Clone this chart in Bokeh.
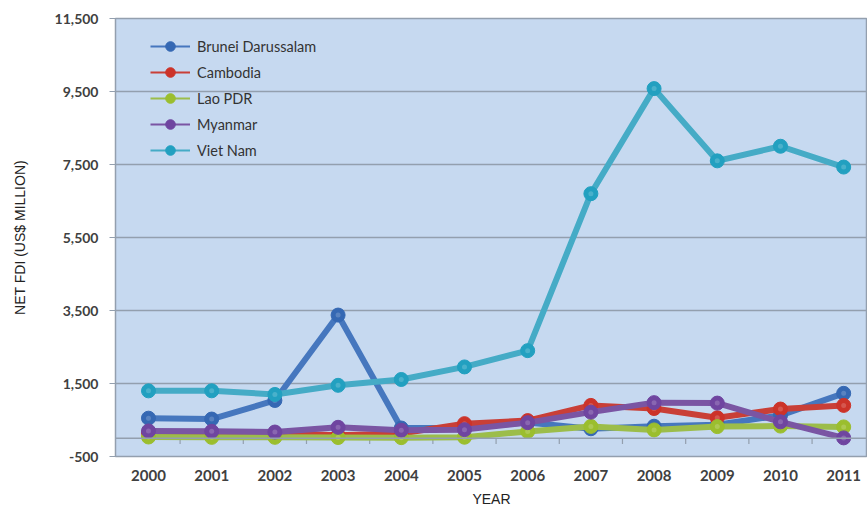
from bokeh.plotting import figure
from bokeh.models import (FixedTicker, NumeralTickFormatter, Span, Legend, LegendItem,
                          Range1d, ColumnDataSource)
from bokeh.embed import file_html
from bokeh.resources import INLINE

years = [2000, 2001, 2002, 2003, 2004, 2005, 2006, 2007, 2008, 2009, 2010, 2011]
brunei = [550, 526, 1035, 3375, 280, 289, 434, 260, 330, 370, 626, 1230]
cambodia = [149, 149, 145, 84, 131, 400, 483, 900, 815, 560, 800, 900]
lao = [34, 24, 25, 20, 17, 28, 187, 324, 228, 319, 333, 310]
myanmar = [200, 190, 170, 300, 220, 236, 428, 715, 976, 963, 450, 10]
vietnam = [1298, 1300, 1200, 1450, 1610, 1954, 2400, 6700, 9579, 7600, 8000, 7430]

names = ["Brunei Darussalam", "Cambodia", "Lao PDR", "Myanmar", "Viet Nam"]
series = [brunei, cambodia, lao, myanmar, vietnam]
line_colors = ["#4677BE", "#C93F37", "#9CBD4A", "#7A55A3", "#45ABC6"]
marker_colors = ["#3568B3", "#CC3329", "#9BBE2E", "#6F45A0", "#22A0C0"]
y_ticks = [-500, 1500, 3500, 5500, 7500, 9500, 11500]

FONT = "Lato"
GRID = "#939FAE"

p = figure(width=867, height=509, output_backend="svg", toolbar_location=None,
           x_range=Range1d(1999.478, 2011.377), y_range=Range1d(-500, 11500),
           min_border_left=115, min_border_top=18, min_border_bottom=51,
           min_border_right=0)

p.background_fill_color = "#C6D9F0"
p.border_fill_color = "white"
p.outline_line_color = GRID
p.outline_line_width = 1.5

# grid
p.xgrid.visible = False
p.ygrid.ticker = FixedTicker(ticks=y_ticks)
p.ygrid.grid_line_color = GRID
p.ygrid.grid_line_width = 1.5

# y axis
p.yaxis.ticker = FixedTicker(ticks=y_ticks)
p.yaxis.formatter = NumeralTickFormatter(format="0,0")
p.yaxis.axis_line_color = None
p.yaxis.major_tick_line_color = GRID
p.yaxis.major_tick_out = 6
p.yaxis.major_tick_in = 0
p.yaxis.minor_tick_line_color = None
p.yaxis.major_label_standoff = 11
p.yaxis.major_label_text_font = FONT
p.yaxis.major_label_text_font_size = "14px"
p.yaxis.major_label_text_font_style = "bold"
p.yaxis.major_label_text_color = "#404040"
p.yaxis.axis_label = "NET FDI (US$ MILLION)"
p.yaxis.axis_label_text_font = "Liberation Sans"
p.yaxis.axis_label_text_font_size = "14px"
p.yaxis.axis_label_text_font_style = "normal"
p.yaxis.axis_label_text_color = "#222222"
p.yaxis.axis_label_standoff = 24

# x axis
p.xaxis.ticker = FixedTicker(ticks=years)
p.xaxis.axis_line_color = None
p.xaxis.major_tick_line_color = None
p.xaxis.major_tick_out = 0
p.xaxis.major_tick_in = 0
p.xaxis.minor_tick_line_color = None
p.xaxis.major_label_standoff = 13
p.xaxis.major_label_text_font = FONT
p.xaxis.major_label_text_font_size = "15px"
p.xaxis.major_label_text_font_style = "bold"
p.xaxis.major_label_text_color = "#404040"
p.xaxis.axis_label = "YEAR"
p.xaxis.axis_label_text_font = "Liberation Sans"
p.xaxis.axis_label_text_font_size = "14px"
p.xaxis.axis_label_text_font_style = "normal"
p.xaxis.axis_label_text_color = "#222222"
p.xaxis.axis_label_standoff = 7

# category axis crossing at zero, with tick marks between categories
p.add_layout(Span(location=0, dimension="width", line_color=GRID, line_width=1.5))
mids = [y + 0.5 for y in years[:-1]]
p.segment(x0=mids, y0=[0] * len(mids), x1=mids, y1=[-160] * len(mids),
          line_color=GRID, line_width=1.2)

# series
for name, vals, lc, mc in zip(names, series, line_colors, marker_colors):
    src = ColumnDataSource(dict(x=years, y=vals))
    p.line("x", "y", source=src, line_color=lc, line_width=6, line_join="round")
    p.scatter("x", "y", source=src, size=14, fill_color=mc, line_color=mc, line_width=1)
    p.scatter("x", "y", source=src, size=5, fill_color="white", fill_alpha=0.18,
              line_color=None)

# legend (thin lines with markers)
nan = float("nan")
items = []
for name, lc, mc in zip(names, line_colors, marker_colors):
    lr = p.line(x=[nan], y=[nan], line_color=lc, line_width=2)
    sr = p.scatter(x=[nan], y=[nan], fill_color=mc, line_color=mc, size=10)
    items.append(LegendItem(label=name, renderers=[lr, sr]))

legend = Legend(items=items, location=(35, 294), orientation="vertical",
                glyph_width=40, glyph_height=24, label_height=24, spacing=2,
                padding=0, margin=0, label_standoff=7,
                label_text_font=FONT, label_text_font_size="14.5px",
                label_text_color="#333333",
                background_fill_alpha=0, border_line_color=None)
p.add_layout(legend, "center")

open("out.html", "w").write(file_html(p, INLINE))
